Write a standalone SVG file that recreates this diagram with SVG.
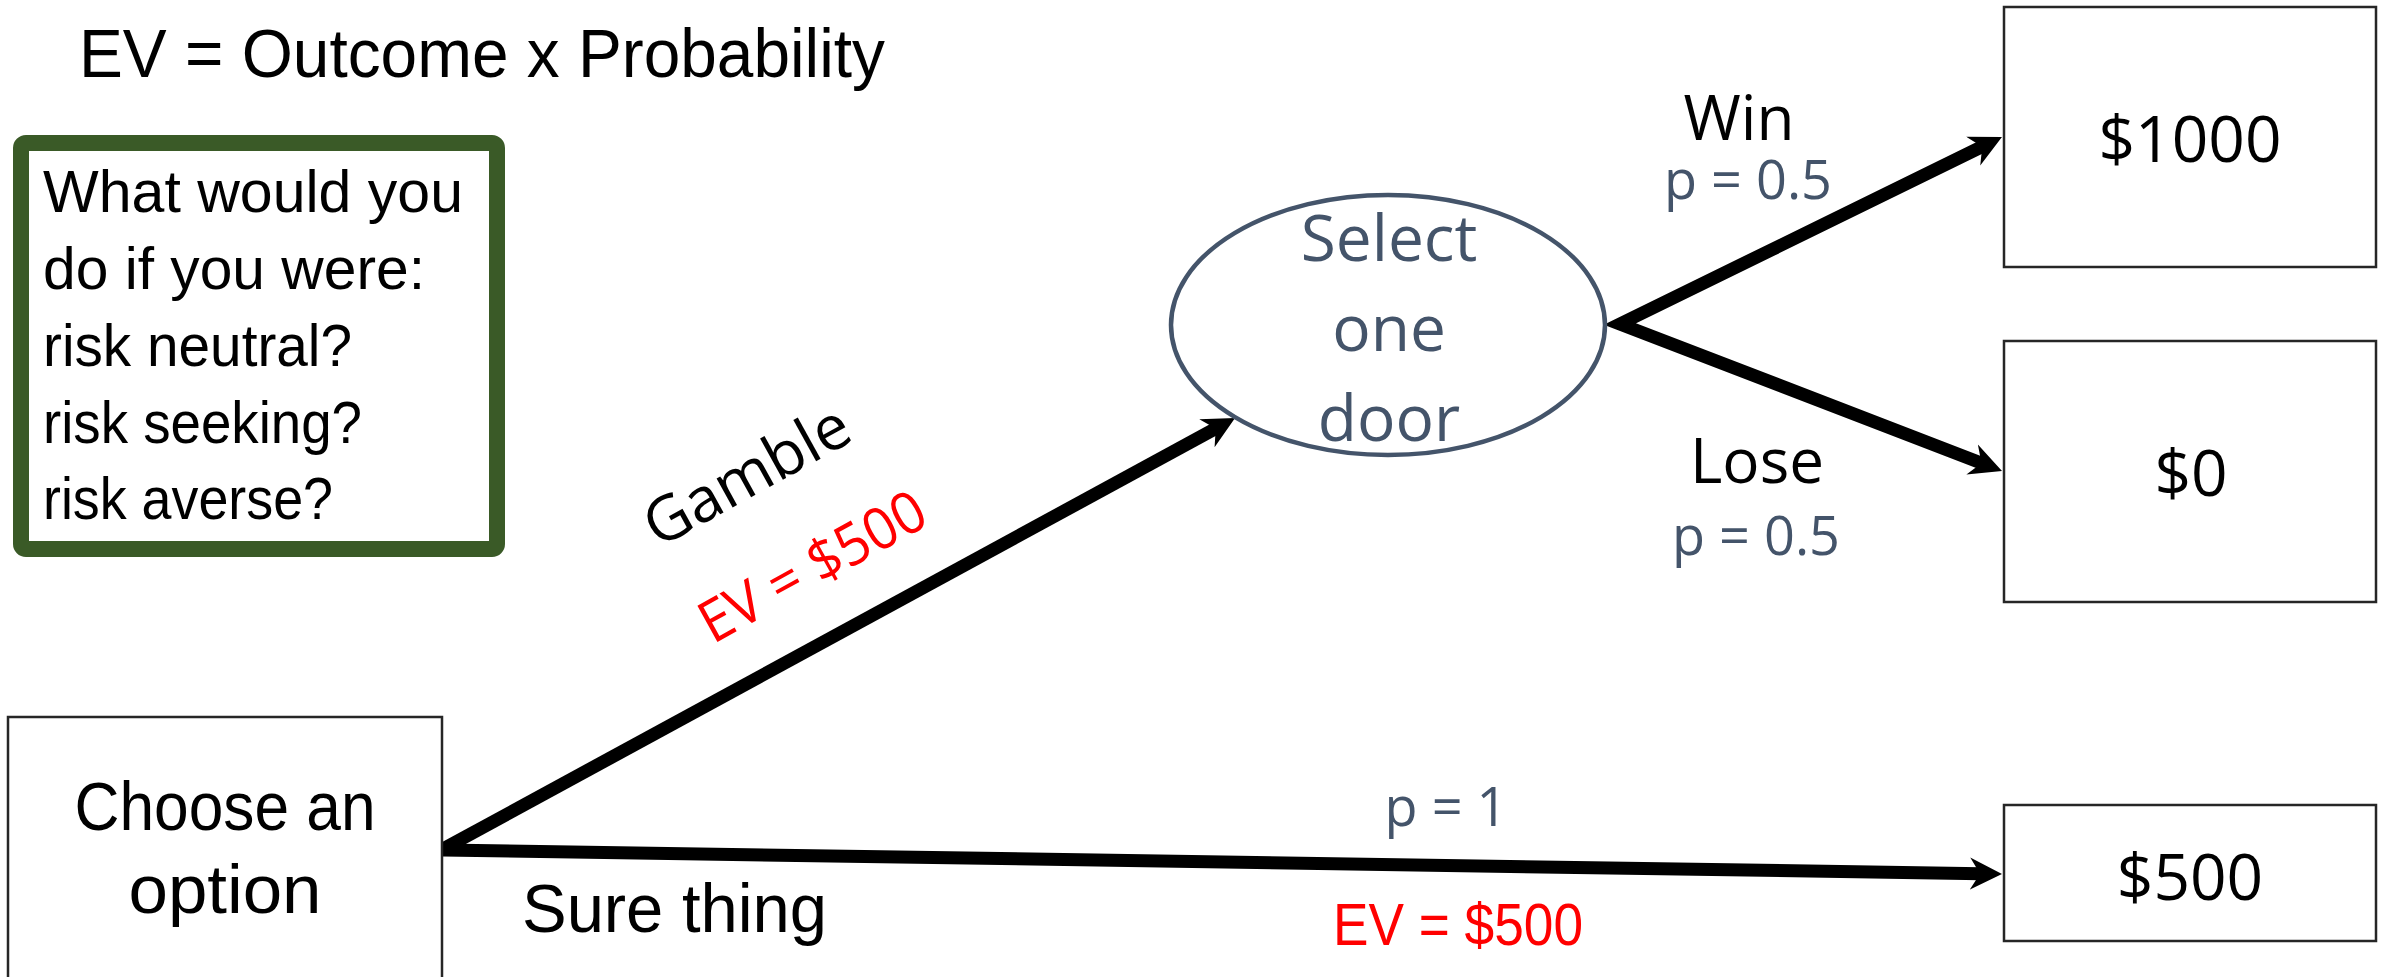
<svg xmlns="http://www.w3.org/2000/svg" width="2392" height="977" viewBox="0 0 2392 977">
  <style>
    .sans { font-family: "Liberation Sans", Arial, sans-serif; }
    .light { font-family: "Open Sans", "Noto Sans", "DejaVu Sans", sans-serif; font-weight: 400; }
    .ink { fill: #000000; }
    .slate { fill: #44546A; }
    .red { fill: #FF0000; }
    .box { fill: #FFFFFF; stroke: #262626; stroke-width: 2.5; }
    .edge { fill: none; stroke: #000000; stroke-width: 13; stroke-linecap: butt; stroke-linejoin: miter; stroke-miterlimit: 10; }
  </style>
  <defs>
    <marker id="arrow" markerUnits="userSpaceOnUse" markerWidth="40" markerHeight="40" viewBox="0 -20 40 40" refX="11" refY="0" orient="auto-start-reverse">
      <path d="M0,-16 L32,0 L0,16 L10,0 Z" fill="#000000"/>
    </marker>
  </defs>

  <rect x="0" y="0" width="2392" height="977" fill="#FFFFFF"/>

  <!-- heading formula -->
  <text id="title" class="sans ink" x="79" y="77" font-size="68" textLength="806" lengthAdjust="spacingAndGlyphs">EV = Outcome x Probability</text>

  <!-- question panel -->
  <g id="question">
    <rect x="21" y="143" width="476" height="406" rx="5" fill="#FFFFFF" stroke="#3A5A27" stroke-width="16"/>
    <g class="sans ink" font-size="60">
      <text x="43" y="212" textLength="420" lengthAdjust="spacingAndGlyphs">What would you</text>
      <text x="43" y="289" textLength="382" lengthAdjust="spacingAndGlyphs">do if you were:</text>
      <text x="43" y="366" textLength="309" lengthAdjust="spacingAndGlyphs">risk neutral?</text>
      <text x="43" y="443" textLength="319" lengthAdjust="spacingAndGlyphs">risk seeking?</text>
      <text x="43" y="519" textLength="290" lengthAdjust="spacingAndGlyphs">risk averse?</text>
    </g>
  </g>

  <!-- connectors -->
  <g id="connectors">
    <path id="edge-gamble" class="edge" d="M443,849 L1216.6,428" marker-end="url(#arrow)"/>
    <path id="edge-sure" class="edge" d="M443,850 L1981,873.7" marker-end="url(#arrow)"/>
    <path id="edge-win-lose" class="edge" d="M1983.1,146.2 L1620,324 L1982.4,463.5" marker-start="url(#arrow)" marker-end="url(#arrow)"/>
  </g>

  <!-- decision node -->
  <g id="choose">
    <rect class="box" x="8" y="717" width="434" height="290"/>
    <text class="sans ink" x="225" y="830" font-size="68" text-anchor="middle" textLength="301" lengthAdjust="spacingAndGlyphs">Choose an</text>
    <text class="sans ink" x="225" y="913" font-size="68" text-anchor="middle" textLength="193" lengthAdjust="spacingAndGlyphs">option</text>
  </g>

  <!-- chance node -->
  <g id="select-door">
    <ellipse cx="1388" cy="325" rx="217" ry="130" fill="#FFFFFF" stroke="#44546A" stroke-width="4.5"/>
    <g class="light slate" font-size="64" text-anchor="middle">
      <text x="1389" y="261">Select</text>
      <text x="1389" y="351">one</text>
      <text x="1389" y="441">door</text>
    </g>
  </g>

  <!-- outcome nodes -->
  <g id="outcome-1000">
    <rect class="box" x="2004" y="7" width="372" height="260"/>
    <text class="light ink" x="2190" y="162" font-size="64" text-anchor="middle">$1000</text>
  </g>
  <g id="outcome-0">
    <rect class="box" x="2004" y="341" width="372" height="261"/>
    <text class="light ink" x="2191" y="496" font-size="64" text-anchor="middle">$0</text>
  </g>
  <g id="outcome-500">
    <rect class="box" x="2004" y="805" width="372" height="136"/>
    <text class="light ink" x="2190" y="900" font-size="64" text-anchor="middle">$500</text>
  </g>

  <!-- branch labels -->
  <g id="labels">
    <g transform="translate(757,494) rotate(-29)">
      <text class="light ink" x="0" y="0" font-size="62" text-anchor="middle" textLength="226" lengthAdjust="spacingAndGlyphs">Gamble</text>
    </g>
    <g transform="translate(822,584) rotate(-29)">
      <text class="light red" x="0" y="0" font-size="58" text-anchor="middle" textLength="250" lengthAdjust="spacingAndGlyphs">EV = $500</text>
    </g>
    <text class="light ink" x="1739" y="140" font-size="62" text-anchor="middle">Win</text>
    <text class="light slate" x="1748" y="199" font-size="54" text-anchor="middle">p = 0.5</text>
    <text class="light ink" x="1757" y="483" font-size="62" text-anchor="middle">Lose</text>
    <text class="light slate" x="1756" y="555" font-size="54" text-anchor="middle">p = 0.5</text>
    <text class="light slate" x="1446" y="826" font-size="54" text-anchor="middle">p = 1</text>
    <text class="sans ink" x="522" y="932" font-size="68" textLength="305" lengthAdjust="spacingAndGlyphs">Sure thing</text>
    <text class="sans red" x="1333" y="945" font-size="60" textLength="250" lengthAdjust="spacingAndGlyphs">EV = $500</text>
  </g>
</svg>
